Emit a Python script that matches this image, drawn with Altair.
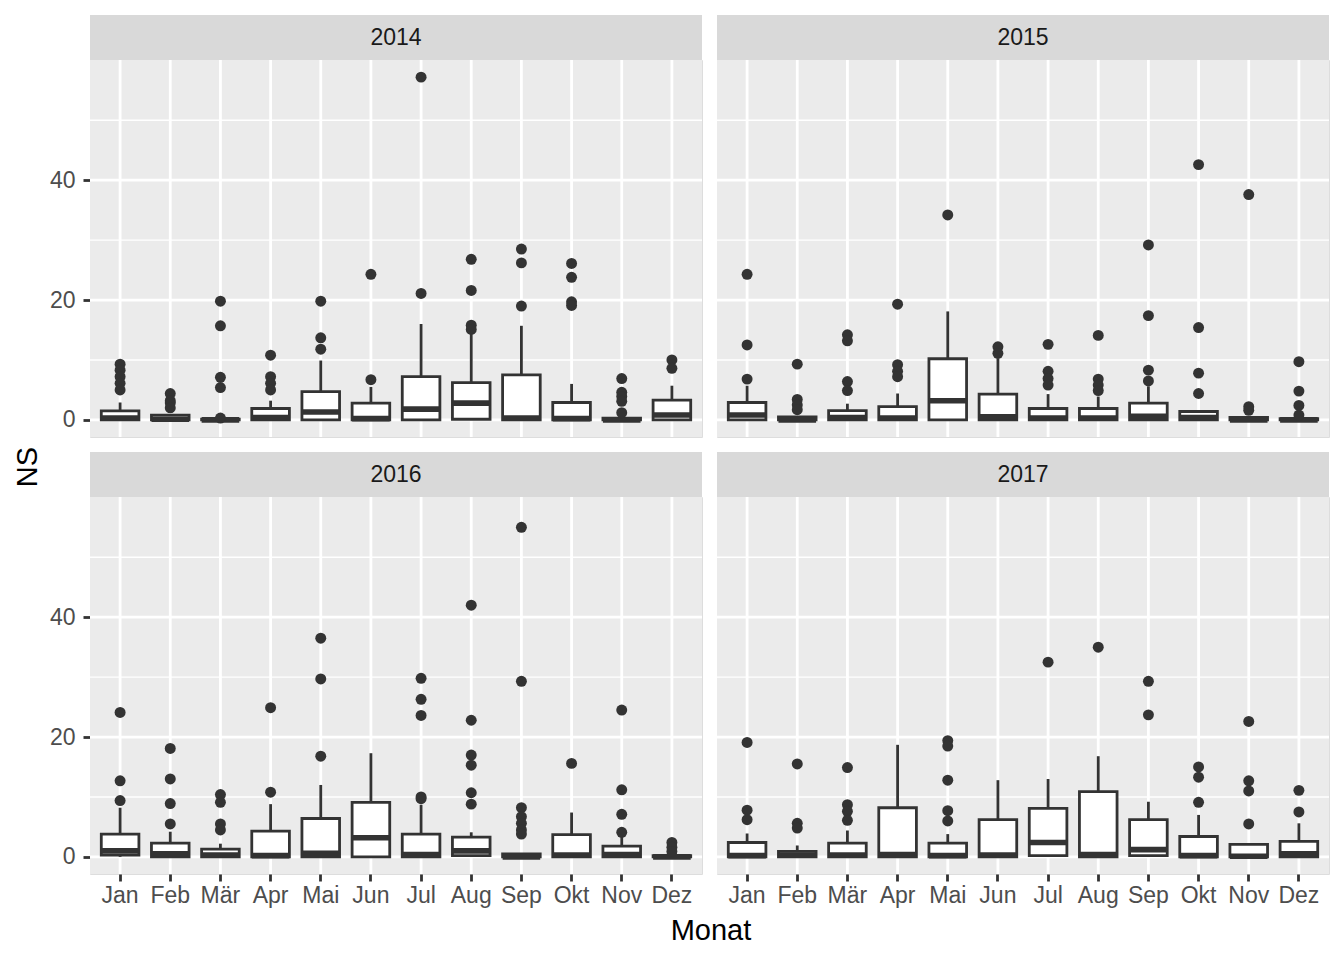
import altair as alt
import pandas as pd

MONTHS = ["Jan", "Feb", "Mär", "Apr", "Mai", "Jun", "Jul", "Aug", "Sep", "Okt", "Nov", "Dez"]
YEARS = [2014, 2015, 2016, 2017]

# ---- box statistics per year (lower hinge, median, upper hinge, whisker ends) ----
q1_2014 = [0, 0, 0, 0, 0, 0, 0, 0.1, 0, 0, 0, 0]
med_2014 = [0.3, 0.1, 0.0, 0.4, 1.3, 0.2, 1.8, 2.8, 0.3, 0.2, 0.0, 0.8]
q3_2014 = [1.5, 0.8, 0.1, 1.9, 4.7, 2.8, 7.2, 6.2, 7.5, 2.9, 0.3, 3.3]
whi_2014 = [2.9, 0.8, 0.1, 3.2, 9.9, 5.5, 16.0, 14.5, 15.7, 6.0, 0.3, 5.7]
out_2014 = {
    "Jan": [9.3, 8.3, 7.2, 6.1, 5.0], "Feb": [4.4, 3.2, 2.8, 2.0],
    "Mär": [19.8, 15.7, 7.1, 5.4, 0.3], "Apr": [10.8, 7.2, 6.1, 5.0],
    "Mai": [19.8, 13.7, 11.8], "Jun": [24.3, 6.7], "Jul": [57.2, 21.1],
    "Aug": [26.8, 21.6, 15.8, 15.1], "Sep": [28.5, 26.2, 19.0],
    "Okt": [26.1, 23.8, 19.7, 19.1], "Nov": [6.9, 4.6, 3.9, 3.1, 1.2], "Dez": [10.0, 8.6],
}

q1_2015 = [0, 0, 0, 0, 0, 0, 0, 0, 0, 0, 0, 0]
med_2015 = [0.8, 0.0, 0.4, 0.3, 3.2, 0.5, 0.3, 0.3, 0.6, 0.4, 0.0, 0.0]
q3_2015 = [2.9, 0.5, 1.55, 2.2, 10.2, 4.3, 1.9, 1.9, 2.8, 1.4, 0.4, 0.2]
whi_2015 = [5.7, 0.5, 2.7, 4.4, 18.1, 10.3, 4.3, 3.9, 5.6, 1.4, 0.4, 0.2]
out_2015 = {
    "Jan": [24.3, 12.5, 6.8], "Feb": [9.3, 3.4, 2.5, 1.7],
    "Mär": [14.2, 13.2, 6.4, 4.9], "Apr": [19.3, 9.2, 8.1, 7.2],
    "Mai": [34.2], "Jun": [12.2, 11.1], "Jul": [12.6, 8.1, 6.9, 5.8],
    "Aug": [14.1, 6.8, 5.8, 4.9], "Sep": [29.2, 17.4, 8.3, 6.5],
    "Okt": [42.6, 15.4, 7.8, 4.4], "Nov": [37.6, 2.2, 1.6], "Dez": [9.7, 4.8, 2.4, 0.8],
}

q1_2016 = [0.3, 0, 0, 0, 0, 0, 0, 0.2, 0, 0, 0, 0]
med_2016 = [1.0, 0.5, 0.3, 0.2, 0.6, 3.2, 0.4, 1.0, 0.0, 0.3, 0.4, 0.0]
q3_2016 = [3.8, 2.3, 1.3, 4.3, 6.4, 9.1, 3.8, 3.3, 0.5, 3.7, 1.8, 0.2]
whi_2016 = [8.2, 4.2, 2.2, 8.8, 12.0, 17.3, 8.7, 4.1, 0.5, 7.4, 3.4, 0.2]
out_2016 = {
    "Jan": [24.1, 12.7, 9.4], "Feb": [18.1, 13.0, 8.9, 5.5],
    "Mär": [10.4, 9.1, 5.5, 4.5], "Apr": [24.9, 10.8],
    "Mai": [36.5, 29.7, 16.8], "Jun": [], "Jul": [29.8, 26.3, 23.6, 10.0, 9.7],
    "Aug": [42.0, 22.8, 17.0, 15.3, 10.7, 8.8],
    "Sep": [55.0, 29.3, 8.2, 6.7, 5.6, 4.5, 3.8],
    "Okt": [15.6], "Nov": [24.5, 11.2, 7.1, 4.1], "Dez": [2.4, 1.6, 0.9],
}

q1_2017 = [0, 0, 0, 0, 0, 0, 0.2, 0, 0.2, 0, 0, 0]
med_2017 = [0.2, 0.3, 0.3, 0.4, 0.2, 0.3, 2.4, 0.4, 1.2, 0.2, 0.1, 0.5]
q3_2017 = [2.4, 0.9, 2.3, 8.2, 2.3, 6.2, 8.1, 10.9, 6.2, 3.4, 2.1, 2.6]
whi_2017 = [3.9, 1.9, 4.4, 18.7, 3.8, 12.8, 13.0, 16.8, 9.2, 7.0, 2.1, 5.6]
out_2017 = {
    "Jan": [19.1, 7.8, 6.2], "Feb": [15.5, 5.6, 4.8],
    "Mär": [14.9, 8.7, 7.6, 6.1], "Apr": [],
    "Mai": [19.4, 18.5, 12.8, 7.7, 6.0], "Jun": [], "Jul": [32.5],
    "Aug": [35.0], "Sep": [29.3, 23.7], "Okt": [15.0, 13.3, 9.1],
    "Nov": [22.6, 12.7, 11.0, 5.5], "Dez": [11.1, 7.5],
}

Y_MAJOR = [0, 20, 40]
Y_MINOR = [10, 30, 50]

STATS = {
    2014: (q1_2014, med_2014, q3_2014, whi_2014, out_2014),
    2015: (q1_2015, med_2015, q3_2015, whi_2015, out_2015),
    2016: (q1_2016, med_2016, q3_2016, whi_2016, out_2016),
    2017: (q1_2017, med_2017, q3_2017, whi_2017, out_2017),
}

# ggplot-like expansion of the continuous y range
all_max = max(max(max(v) for v in s[4].values() if v) for s in STATS.values())
all_max = max(all_max, max(max(s[3]) for s in STATS.values()))
YDOM = [0 - 0.05 * all_max, all_max * 1.05]

W, H = 612, 377
STRIP_H = 45
INK = "#333333"
FONT = "Liberation Sans"
LAB = 23
TIT = 29


def panel(year, col, row):
    q1, med, q3, whi, out = STATS[year]
    box = pd.DataFrame({"month": MONTHS, "q1": q1, "med": med, "q3": q3,
                        "whi": whi, "wlo": [0.0] * 12})
    pts = pd.DataFrame([{"month": m, "value": v} for m in MONTHS for v in out[m]])
    grid_major = pd.DataFrame({"v": Y_MAJOR})
    grid_minor = pd.DataFrame({"v": Y_MINOR})
    months_df = pd.DataFrame({"month": MONTHS})
    strip = pd.DataFrame({"year": [str(year)]})

    xscale = alt.Scale(domain=MONTHS, paddingInner=0.25, paddingOuter=0.225)
    yscale = alt.Scale(domain=YDOM, nice=False, zero=False)

    if row == 1:
        if col == 0:
            xaxis = alt.Axis(title="Monat", titleX=620.5, titleY=65, titleBaseline="alphabetic",
                             titleFontSize=TIT, titleColor="#000000", titleFontWeight="normal",
                             titleFont=FONT, labelAngle=0, labelFontSize=LAB, labelFont=FONT,
                             labelColor="#4D4D4D", labelPadding=3, tickColor=INK, tickWidth=2.8,
                             tickSize=7, domain=False, grid=False)
        else:
            xaxis = alt.Axis(title=None, labelAngle=0, labelFontSize=LAB, labelFont=FONT,
                             labelColor="#4D4D4D", labelPadding=3, tickColor=INK, tickWidth=2.8,
                             tickSize=7, domain=False, grid=False)
    else:
        xaxis = None

    if col == 0:
        if row == 0:
            yaxis = alt.Axis(title="NS", titleX=-54, titleY=406.5, titleAngle=270,
                             titleBaseline="alphabetic", titleAlign="center",
                             titleFontSize=TIT, titleColor="#000000", titleFontWeight="normal",
                             titleFont=FONT, values=Y_MAJOR, labelFontSize=LAB, labelFont=FONT,
                             labelColor="#4D4D4D", labelPadding=8, tickColor=INK, tickWidth=2.8,
                             tickSize=7, domain=False, grid=False)
        else:
            yaxis = alt.Axis(title=None, values=Y_MAJOR, labelFontSize=LAB, labelFont=FONT,
                             labelColor="#4D4D4D", labelPadding=8, tickColor=INK, tickWidth=2.8,
                             tickSize=7, domain=False, grid=False)
    else:
        yaxis = None

    def X(field):
        return alt.X(f"{field}:N", scale=xscale, axis=xaxis, sort=MONTHS)

    def Y(field):
        return alt.Y(f"{field}:Q", scale=yscale, axis=yaxis)

    bg = alt.Chart(strip).mark_rect(color="#EBEBEB").encode(
        x=alt.value(0), x2=alt.value(W), y=alt.value(0), y2=alt.value(H))
    minor = alt.Chart(grid_minor).mark_rule(color="white", strokeWidth=1.4).encode(y=Y("v"))
    major = alt.Chart(grid_major).mark_rule(color="white", strokeWidth=2.8).encode(y=Y("v"))
    vgrid = alt.Chart(months_df).mark_rule(color="white", strokeWidth=2.8).encode(x=X("month"))

    whisk_hi = alt.Chart(box).mark_rule(color=INK, strokeWidth=2.8).encode(
        x=X("month"), y=Y("q3"), y2="whi")
    whisk_lo = alt.Chart(box).mark_rule(color=INK, strokeWidth=2.8).encode(
        x=X("month"), y=Y("wlo"), y2="q1")
    boxes = alt.Chart(box).mark_bar(fill="white", stroke=INK, strokeWidth=2.8).encode(
        x=X("month"), y=Y("q1"), y2="q3")
    medians = alt.Chart(box).mark_tick(color=INK, thickness=5.6, size=37.6, opacity=1).encode(
        x=X("month"), y=Y("med"))
    points = alt.Chart(pts).mark_circle(color=INK, size=120, opacity=1).encode(
        x=X("month"), y=Y("value"))

    strip_bg = alt.Chart(strip).mark_rect(color="#D9D9D9").encode(
        x=alt.value(0), x2=alt.value(W), y=alt.value(-STRIP_H), y2=alt.value(0))
    strip_txt = alt.Chart(strip).mark_text(fontSize=LAB, font=FONT, color="#1A1A1A",
                                           baseline="middle", align="center").encode(
        x=alt.value(W / 2), y=alt.value(-STRIP_H / 2), text="year:N")

    return alt.layer(bg, minor, major, vgrid, whisk_lo, whisk_hi, boxes, medians, points,
                     strip_bg, strip_txt).properties(width=W, height=H)


panels = [panel(y, i % 2, i // 2) for i, y in enumerate(YEARS)]

chart = alt.concat(*panels, columns=2, spacing={"row": 60, "column": 15}, bounds="flush").properties(
    padding={"left": 4, "top": 6, "right": 5, "bottom": 5}
).configure_view(fill="#EBEBEB", strokeWidth=0).configure(background="white")

chart.save("out.html", embed_options={"renderer": "svg", "actions": False})
